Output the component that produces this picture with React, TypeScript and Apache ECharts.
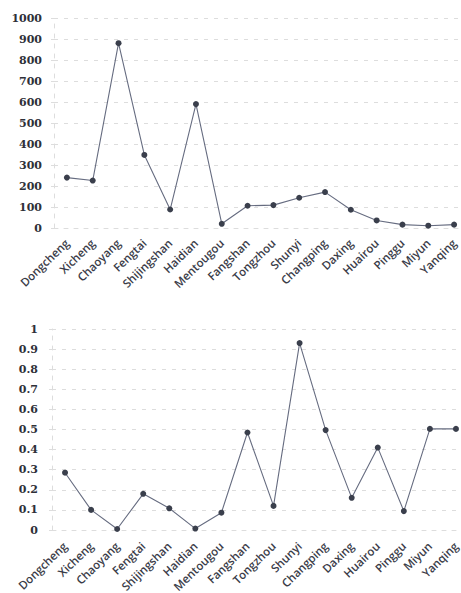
import React, { useEffect, useRef } from "react";
import * as echarts from "echarts";

// Beijing districts, in display order
const districts = [
  "Dongcheng", "Xicheng", "Chaoyang", "Fengtai", "Shijingshan", "Haidian",
  "Mentougou", "Fangshan", "Tongzhou", "Shunyi", "Changping", "Daxing",
  "Huairou", "Pinggu", "Miyun", "Yanqing",
];

// Upper panel: absolute counts per district
const countValues = [240, 226, 880, 348, 88, 590, 20, 106, 109, 144, 171, 87, 36, 16, 11, 16];

// Lower panel: ratio per district
const ratioValues = [0.285, 0.1, 0.005, 0.18, 0.108, 0.007, 0.086, 0.485, 0.12, 0.93, 0.497, 0.16, 0.41, 0.094, 0.503, 0.503];

const countTicks = { min: 0, max: 1000, interval: 100 };
const ratioTicks = { min: 0, max: 1, interval: 0.1 };

const lineColor = "#666c80";
const pointColor = "#3a3f4c";
const gridColor = "#dddddd";

const yLabel = {
  fontFamily: "'DejaVu Serif', serif",
  fontWeight: "bold" as const,
  fontSize: 11,
  color: "#2e3038",
};

const xLabel = {
  fontFamily: "'Open Sans', sans-serif",
  fontSize: 11.5,
  fontWeight: 600,
  color: "#3a3c48",
  rotate: 44,
  interval: 0,
};

export default function App() {
  const ref = useRef<HTMLDivElement>(null);

  useEffect(() => {
    if (!ref.current) return;
    const chart = echarts.init(ref.current, undefined, { renderer: "svg" });

    const xAxisBase = {
      type: "category" as const,
      data: districts,
      boundaryGap: true,
      axisLine: { show: true, lineStyle: { color: gridColor, type: [4, 6] } },
      axisTick: { show: false },
    };
    const yAxisBase = {
      type: "value" as const,
      axisLine: { show: true, lineStyle: { color: gridColor, type: [4, 6] } },
      axisTick: { show: true, length: 3, lineStyle: { color: gridColor } },
      splitLine: { show: true, lineStyle: { color: gridColor, type: [4, 6], width: 1 } },
    };
    const seriesBase = {
      type: "line" as const,
      symbol: "circle",
      symbolSize: 6,
      lineStyle: { color: lineColor, width: 1.1 },
      itemStyle: { color: pointColor },
    };

    chart.setOption({
      animation: false,
      backgroundColor: "#ffffff",
      grid: [
        { left: 54, right: -6, top: 18, height: 210, outerBoundsMode: "none" },
        { left: 52, right: -8, top: 329, height: 201, outerBoundsMode: "none" },
      ],
      xAxis: [
        { ...xAxisBase, gridIndex: 0, axisLabel: { ...xLabel, margin: 13 } },
        { ...xAxisBase, gridIndex: 1, axisLabel: { ...xLabel, margin: 14 } },
      ],
      yAxis: [
        {
          ...yAxisBase,
          gridIndex: 0,
          ...countTicks,
          axisLabel: { ...yLabel, margin: 12, formatter: (v: number) => String(v) },
        },
        {
          ...yAxisBase,
          gridIndex: 1,
          ...ratioTicks,
          axisLabel: { ...yLabel, margin: 14, formatter: (v: number) => String(Math.round(v * 10) / 10) },
        },
      ],
      series: [
        { ...seriesBase, xAxisIndex: 0, yAxisIndex: 0, data: countValues },
        { ...seriesBase, xAxisIndex: 1, yAxisIndex: 1, data: ratioValues },
      ],
    });

    return () => chart.dispose();
  }, []);

  return (
    <div style={{ position: "fixed", left: 0, top: 0, width: 461, height: 593, overflow: "hidden", background: "#fff" }}>
      <div ref={ref} style={{ width: 461, height: 593 }} />
    </div>
  );
}
